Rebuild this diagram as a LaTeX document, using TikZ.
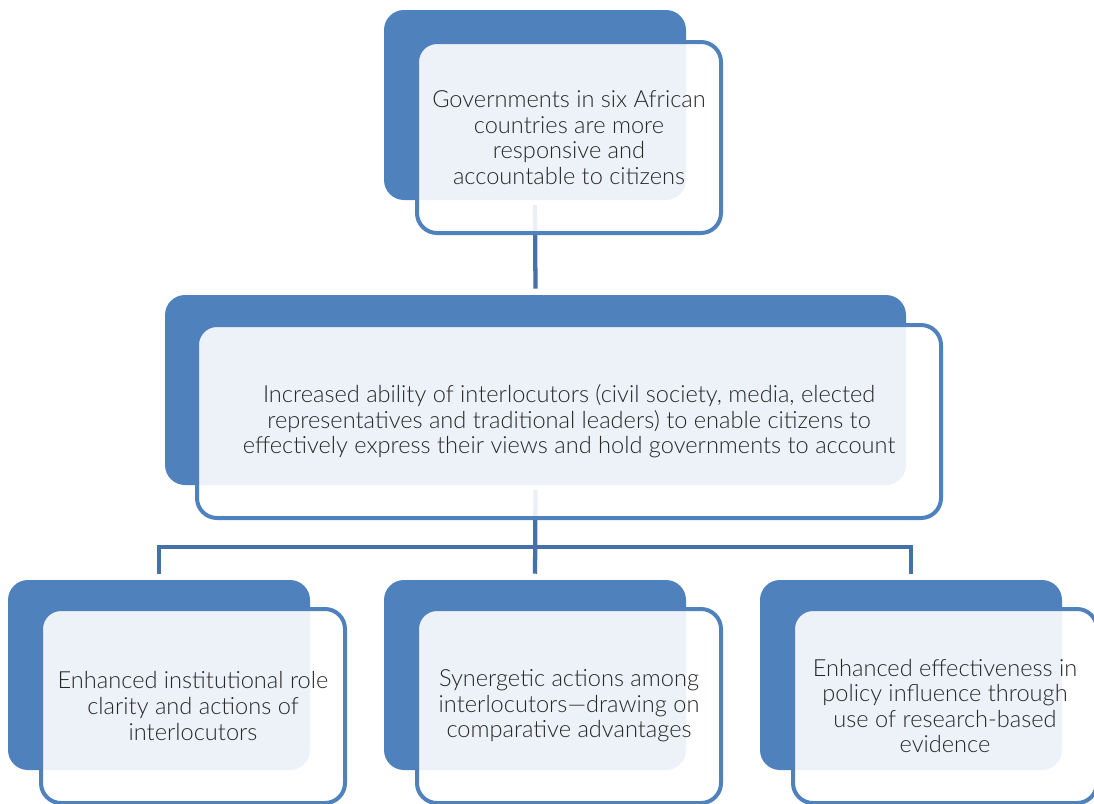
\documentclass[tikz,border=0pt]{standalone}
\usepackage{fontspec}
\setmainfont{Lato Light}
\definecolor{accent}{HTML}{4F81BD}
\definecolor{linkblue}{HTML}{4670A8}
\definecolor{ink}{HTML}{262626}
\begin{document}
\begin{tikzpicture}[x=0.75pt,y=-0.75pt,
  back/.style={fill=accent,draw=none,rounded corners=15pt,inner sep=0pt},
  front/.style={fill=white,fill opacity=0.9,text opacity=1,draw=accent,line width=3pt,
    rounded corners=15pt,inner sep=0pt,text=ink,align=center,
    font=\fontsize{17.7}{19.2}\selectfont},
  conn/.style={draw=linkblue,line width=3.2pt,shorten <=3.5pt,shorten >=4.5pt}]
\useasboundingbox (0,0) rectangle (1094,803);
\begin{scope}
\clip (0,0) rectangle (1094,803);
% filled back panels
\node[back,minimum width=226.5pt,minimum height=142.5pt] (topback) at (535,105) {};
\node[back,minimum width=555.75pt,minimum height=142.5pt] (midback) at (535.5,390) {};
\node[back,minimum width=226.5pt,minimum height=142.5pt] (lback) at (159,675) {};
\node[back,minimum width=226.5pt,minimum height=142.5pt] (cback) at (535,675) {};
\node[back,minimum width=226.5pt,minimum height=142.5pt] (rback) at (911,675) {};
% connectors
\coordinate (bar) at (535,547);
\draw[conn] (topback.south) -- (midback.north);
\draw[conn] (midback.south) -- (cback.north);
\draw[conn,shorten <=4.5pt] (lback.north) |- (bar) -| (rback.north);
% outlined text panels
\node[front,minimum width=228pt,minimum height=143.25pt] (top) at (569,137.5)
  {Governments in six African\\countries are more\\responsive and\\accountable to citizens};
\node[front,minimum width=558pt,minimum height=144.75pt] (mid) at (569,421.5)
  {Increased ability of interlocutors (civil society, media, elected\\representatives and traditional leaders) to enable citizens to\\effectively express their views and hold governments to account};
\node[front,minimum width=228pt,minimum height=145.5pt] (left) at (193,706)
  {Enhanced institutional role\\clarity and actions of\\interlocutors};
\node[front,minimum width=228pt,minimum height=145.5pt] (center) at (569,706)
  {Synergetic actions among\\interlocutors—drawing on\\comparative advantages};
\node[front,minimum width=228pt,minimum height=145.5pt] (right) at (945,706)
  {Enhanced effectiveness in\\policy influence through\\use of research-based\\evidence};
\end{scope}
\end{tikzpicture}
\end{document}
